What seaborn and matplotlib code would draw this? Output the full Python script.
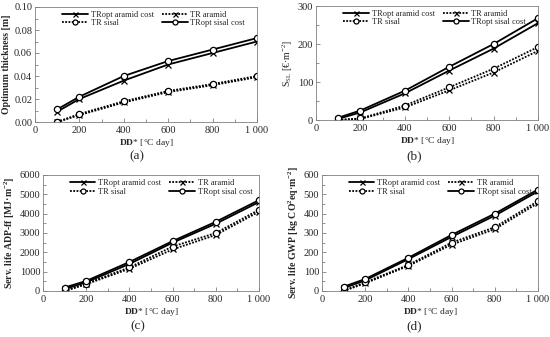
import numpy as np
import pandas as pd
import matplotlib
matplotlib.use("Agg")
import matplotlib.pyplot as plt
import seaborn as sns
from matplotlib.ticker import MultipleLocator, FuncFormatter, AutoMinorLocator

sns.set_style("ticks")
plt.rcParams["font.family"] = ["Liberation Serif", "DejaVu Serif"]
plt.rcParams["mathtext.fontset"] = "custom"
plt.rcParams["mathtext.rm"] = "Liberation Serif"
plt.rcParams["mathtext.bf"] = "Liberation Serif:bold"
plt.rcParams["mathtext.it"] = "Liberation Serif:italic"

# ---------------------------------------------------------------
# data
# ---------------------------------------------------------------
dd = [100, 200, 400, 600, 800, 1000]
series_names = ["TRopt aramid cost", "TR aramid", "TR sisal", "TRopt sisal cost"]

thick_opt_aramid = [0.009, 0.020, 0.036, 0.050, 0.060, 0.070]
thick_tr_aramid = [0.000, 0.006, 0.017, 0.026, 0.032, 0.039]
thick_tr_sisal = [0.000, 0.007, 0.018, 0.027, 0.033, 0.040]
thick_opt_sisal = [0.011, 0.022, 0.040, 0.053, 0.063, 0.073]

ssl_opt_aramid = [3, 20, 70, 130, 188, 255]
ssl_tr_aramid = [0, 3, 33, 78, 125, 182]
ssl_tr_sisal = [0, 4, 38, 86, 135, 192]
ssl_opt_sisal = [6, 25, 77, 140, 200, 268]

adp_opt_aramid = [100, 450, 1400, 2500, 3480, 4600]
adp_tr_aramid = [0, 350, 1150, 2150, 2900, 4100]
adp_tr_sisal = [0, 380, 1220, 2300, 3000, 4200]
adp_opt_sisal = [180, 520, 1500, 2580, 3580, 4700]

gwp_opt_aramid = [15, 55, 165, 280, 390, 515]
gwp_tr_aramid = [0, 40, 130, 240, 320, 455]
gwp_tr_sisal = [2, 45, 135, 250, 330, 465]
gwp_opt_sisal = [22, 62, 172, 290, 400, 525]

DOT = (0, (1, 0.8))
styles = {
    "TRopt aramid cost": dict(linestyle="-", marker="x"),
    "TR aramid": dict(linestyle=DOT, marker="x"),
    "TR sisal": dict(linestyle=DOT, marker="o", markerfacecolor="white"),
    "TRopt sisal cost": dict(linestyle="-", marker="o", markerfacecolor="white"),
}

W, H = 550, 337


def px_rect(left, right, top, bottom):
    return [left / W, 1 - bottom / H, (right - left) / W, (bottom - top) / H]


panels = [
    ([thick_opt_aramid, thick_tr_aramid, thick_tr_sisal, thick_opt_sisal],
     r"Optimum thickness [m]", "bold", (0, 0.10), 0.02, "{:.2f}",
     "(a)", (137, 156), px_rect(35, 257, 7, 122), 0.0),
    ([ssl_opt_aramid, ssl_tr_aramid, ssl_tr_sisal, ssl_opt_sisal],
     r"S$_{\mathrm{SL}}$ [€·m$^{-2}$]", "normal", (0, 300), 100, "{:.0f}",
     "(b)", (414, 156), px_rect(316, 538, 6, 120), 0.0),
    ([adp_opt_aramid, adp_tr_aramid, adp_tr_sisal, adp_opt_sisal],
     r"Serv. life ADP-ff [MJ·m$^{\mathbf{-2}}$]", "bold", (0, 6000), 1000, "{:.0f}",
     "(c)", (138, 326), px_rect(43, 259, 175, 291), 0.15),
    ([gwp_opt_aramid, gwp_tr_aramid, gwp_tr_sisal, gwp_opt_sisal],
     r"Serv. life GWP [kg CO$^{\mathbf{2}}$eq·m$^{\mathbf{-2}}$]", "bold", (0, 600), 100, "{:.0f}",
     "(d)", (414, 326), px_rect(322, 538, 175, 291), 0.15),
]


def x_fmt(v, pos):
    return "1 000" if v >= 1000 else f"{v:.0f}"


fig = plt.figure(figsize=(5.5, 3.37), dpi=100)

for values, ylabel, yweight, ylim, ystep, yfmt, tag, tag_xy, rect, lspace in panels:
    ax = fig.add_axes(rect)
    df = pd.DataFrame({"dd": dd})
    for name, vals in zip(series_names, values):
        df[name] = vals
        sns.lineplot(data=df, x="dd", y=name, ax=ax, color="black", linewidth=1.3,
                     markersize=4.5, markeredgewidth=0.9, markeredgecolor="black",
                     label=name, **styles[name])
    ax.set_xlim(0, 1000)
    ax.set_ylim(*ylim)
    ax.xaxis.set_major_locator(MultipleLocator(200))
    ax.xaxis.set_minor_locator(MultipleLocator(100))
    ax.xaxis.set_major_formatter(FuncFormatter(x_fmt))
    ax.yaxis.set_major_locator(MultipleLocator(ystep))
    ax.yaxis.set_minor_locator(AutoMinorLocator(2))
    ax.yaxis.set_major_formatter(FuncFormatter(lambda v, p, f=yfmt: f.format(v)))
    ax.tick_params(which="both", direction="in", color="#808080", width=0.6)
    ax.tick_params(which="major", length=3, labelsize=7.5)
    ax.tick_params(which="minor", length=2)
    ax.tick_params(axis="x", pad=3)
    ax.tick_params(axis="y", pad=2)
    for s in ax.spines.values():
        s.set_linewidth(0.6)
        s.set_color("#808080")
    ax.set_xlabel(r"$\mathbf{DD}$* [°C day]", fontsize=6.8, labelpad=1)
    ax.set_ylabel(ylabel, fontsize=7, fontweight=yweight, labelpad=2)
    h, l = ax.get_legend_handles_labels()
    order = [0, 2, 1, 3]
    ax.legend([h[i] for i in order], [l[i] for i in order], ncol=2, frameon=False,
              fontsize=6, loc="upper left", bbox_to_anchor=(0.1, 1.01), borderpad=0.1,
              handlelength=3.1, columnspacing=1.0, labelspacing=lspace, handletextpad=0.3,
              markerscale=0.8, handleheight=0.6)
    fig.text(tag_xy[0] / W, 1 - tag_xy[1] / H, tag, ha="center", va="center", fontsize=9.5)

fig.savefig("out.png", dpi=100)
